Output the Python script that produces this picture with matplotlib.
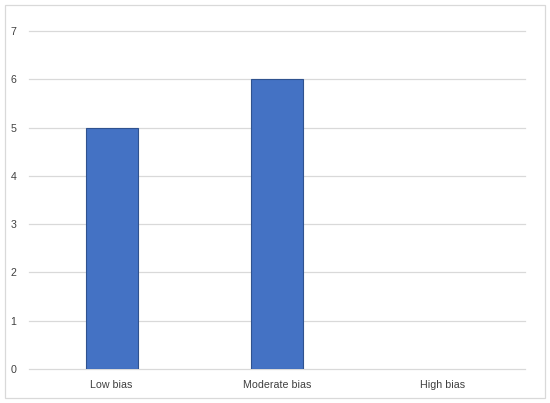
import matplotlib.pyplot as plt
from matplotlib.patches import Rectangle

# dane
categories = ['Low bias', 'Moderate bias', 'High bias']
values = [5, 6, 0]
y_ticks = [0, 1, 2, 3, 4, 5, 6, 7]

plt.rcParams['font.family'] = ['Liberation Sans', 'DejaVu Sans']

fig = plt.figure(figsize=(5.5, 4.03), dpi=100)
ax = fig.add_axes([29 / 550, 1 - 369 / 403, 496 / 550, 338 / 403])

x = range(len(categories))
# słupek o wartości 0 jest niewidoczny (linia siatki na 0 zostaje)
fills = ['#4472C4' if v > 0 else 'none' for v in values]
edges = ['#2F528F' if v > 0 else 'none' for v in values]
ax.bar(x, values, width=0.315, color=fills, edgecolor=edges, linewidth=0.8, zorder=3)

ax.set_xlim(-0.5, len(categories) - 0.5)
ax.set_ylim(0, 7)
ax.set_yticks(y_ticks)
ax.set_xticks(list(x))
ax.set_xticklabels(categories)
ax.grid(axis='y', color='#d9d9d9', linewidth=0.9, zorder=0)
for gl in ax.yaxis.get_gridlines():
    gl.set_clip_on(False)
ax.tick_params(axis='both', length=0, labelsize=7.7, colors='#404040')
ax.tick_params(axis='y', pad=9)
ax.tick_params(axis='x', pad=8)
for s in ax.spines.values():
    s.set_visible(False)

# ramka wykresu
fig.patches.append(Rectangle((5 / 550, 5 / 403), 540 / 550, 393 / 403, transform=fig.transFigure,
                             fill=False, edgecolor='#d9d9d9', linewidth=0.9))

fig.savefig('out.png', dpi=100)
